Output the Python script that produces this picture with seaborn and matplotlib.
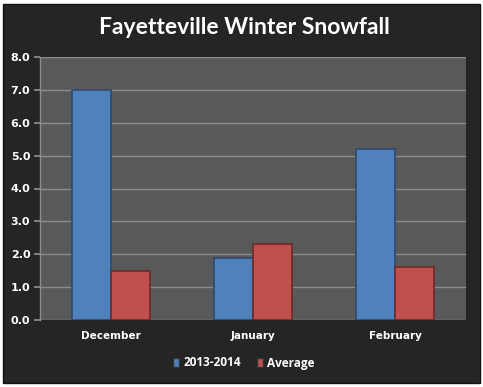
import matplotlib
matplotlib.use("Agg")
import matplotlib.pyplot as plt
import seaborn as sns
import pandas as pd
from matplotlib.patches import Rectangle, Patch

months = ["December", "January", "February"]
season_2013_2014 = [7.0, 1.9, 5.2]
average = [1.5, 2.3, 1.6]
series_names = ["2013-2014", "Average"]
yticks = [0.0, 1.0, 2.0, 3.0, 4.0, 5.0, 6.0, 7.0, 8.0]

df = pd.DataFrame({
    "Month": months * 2,
    "Snowfall": season_2013_2014 + average,
    "Series": [series_names[0]] * 3 + [series_names[1]] * 3,
})

sns.set_theme(style="dark")
dark = "#252525"
plt.rcParams["font.family"] = ["DejaVu Sans"]

fig = plt.figure(figsize=(4.83, 3.87), dpi=100, facecolor="white")
fig.patches.append(Rectangle((3/483, 4/387), 477/483, 379/387, transform=fig.transFigure,
                             facecolor=dark, edgecolor="#111111", linewidth=1, zorder=-10))
ax = fig.add_axes([40/483, 1 - 320/387, 426/483, 263/387])
ax.set_facecolor("#595959")

palette = {"2013-2014": "#4f81bd", "Average": "#c0504d"}
sns.barplot(data=df, x="Month", y="Snowfall", hue="Series", palette=palette,
            width=0.55, gap=0, ax=ax, saturation=1, legend=False,
            linewidth=1.2, zorder=3)
for p in ax.patches:
    fc = p.get_facecolor()
    if abs(fc[0] - 0x4f/255) < 0.05:
        p.set_edgecolor("#2c4a70")
    else:
        p.set_edgecolor("#6e2a28")

ax.set_ylim(0, 8)
ax.set_yticks(yticks)
ax.set_yticklabels([f"{v:.1f}" for v in yticks], color="white", fontsize=8, fontweight="bold")
ax.set_xticklabels(months, color="white", fontsize=7.5, fontweight="bold")
ax.tick_params(axis="x", length=0, pad=8)
ax.tick_params(axis="y", length=4, color="#8c8c8c", pad=3, left=True)
ax.grid(axis="y", color="#8c8c8c", linewidth=1, zorder=0)
ax.grid(axis="x", visible=False)
ax.set_axisbelow(True)
ax.set_xlabel("")
ax.set_ylabel("")
for side in ["top", "right", "bottom"]:
    ax.spines[side].set_visible(False)
ax.spines["left"].set_visible(True)
ax.spines["left"].set_color("#8c8c8c")
ax.spines["left"].set_linewidth(1)

fig.text(0.505, 1 - 27/387, "Fayetteville Winter Snowfall", ha="center", va="center",
         color="white", fontsize=16.5, fontweight="bold", family=["Lato", "DejaVu Sans"])

handles = [Patch(facecolor=palette[s], edgecolor="#333333", label=s) for s in series_names]
leg = fig.legend(handles=handles, loc="center", bbox_to_anchor=(0.505, 1 - 363/387),
                 ncol=2, frameon=False, handlelength=0.5, handleheight=0.9,
                 handletextpad=0.35, columnspacing=1.4,
                 prop={"weight": "bold", "size": 8.5, "family": ["Open Sans", "DejaVu Sans"]})
for t in leg.get_texts():
    t.set_color("white")

fig.savefig("out.png", dpi=100, facecolor="white")
